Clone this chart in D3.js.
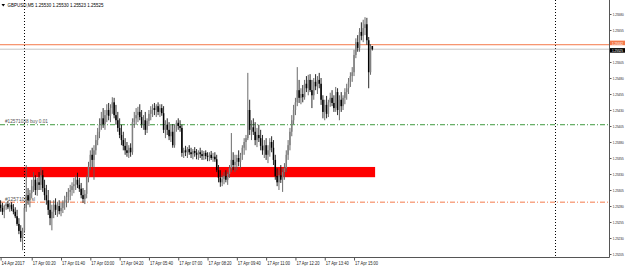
<!DOCTYPE html>
<html>
<head>
<meta charset="utf-8">
<script src="https://cdn.jsdelivr.net/npm/d3@7"></script>
<style>
  body { margin: 0; background: #fff; }
  svg text { font-family: "Liberation Sans", Arial, sans-serif; }
</style>
</head>
<body>
<div id="chart"></div>
<script>
// GBPUSD M5 bars (bar 0 = first visible bar of 14 Apr)
const opens = [1.25282,1.25277,1.25271,1.25280,1.25283,1.25278,1.25282,1.25275,1.25271,1.25264,
1.25252,1.25241,1.25230,1.25242,1.25277,1.25297,1.25289,1.25300,1.25311,1.25321,
1.25305,1.25317,1.25313,1.25328,1.25308,1.25297,1.25289,1.25274,1.25261,1.25271,
1.25282,1.25274,1.25280,1.25272,1.25277,1.25285,1.25289,1.25294,1.25302,1.25305,
1.25311,1.25314,1.25321,1.25313,1.25307,1.25297,1.25291,1.25299,1.25324,1.25342,
1.25360,1.25352,1.25367,1.25383,1.25396,1.25407,1.25417,1.25408,1.25422,1.25430,
1.25421,1.25433,1.25442,1.25422,1.25414,1.25402,1.25391,1.25383,1.25374,1.25367,
1.25363,1.25371,1.25364,1.25411,1.25417,1.25422,1.25427,1.25419,1.25408,1.25414,
1.25399,1.25413,1.25424,1.25430,1.25433,1.25430,1.25436,1.25427,1.25433,1.25425,
1.25399,1.25407,1.25399,1.25389,1.25396,1.25375,1.25402,1.25410,1.25405,1.25402,
1.25363,1.25367,1.25364,1.25369,1.25364,1.25361,1.25366,1.25363,1.25360,1.25364,
1.25361,1.25358,1.25363,1.25358,1.25357,1.25360,1.25355,1.25357,1.25353,1.25336,
1.25324,1.25317,1.25322,1.25327,1.25321,1.25330,1.25339,1.25352,1.25344,1.25349,
1.25355,1.25349,1.25360,1.25371,1.25380,1.25386,1.25430,1.25399,1.25403,1.25396,
1.25383,1.25391,1.25386,1.25374,1.25367,1.25375,1.25360,1.25367,1.25380,1.25371,
1.25352,1.25327,1.25317,1.25328,1.25321,1.25333,1.25339,1.25360,1.25375,1.25396,
1.25414,1.25430,1.25442,1.25461,1.25449,1.25455,1.25450,1.25471,1.25464,1.25477,
1.25461,1.25453,1.25474,1.25467,1.25477,1.25471,1.25446,1.25427,1.25438,1.25424,
1.25442,1.25449,1.25441,1.25433,1.25458,1.25430,1.25446,1.25436,1.25449,1.25458,
1.25464,1.25474,1.25483,1.25489,1.25516,1.25536,1.25527,1.25552,1.25546,1.25558,
1.25564,1.25539,1.25489,1.25530];

const highs = [1.25289,1.25285,1.25282,1.25286,1.25288,1.25285,1.25286,1.25283,1.25278,1.25274,
1.25261,1.25250,1.25246,1.25282,1.25344,1.25308,1.25305,1.25321,1.25333,1.25328,
1.25324,1.25333,1.25341,1.25336,1.25321,1.25313,1.25305,1.25289,1.25282,1.25289,
1.25292,1.25286,1.25289,1.25285,1.25289,1.25296,1.25302,1.25308,1.25313,1.25317,
1.25324,1.25328,1.25332,1.25324,1.25316,1.25308,1.25305,1.25328,1.25349,1.25367,
1.25371,1.25375,1.25391,1.25402,1.25417,1.25427,1.25433,1.25430,1.25439,1.25441,
1.25439,1.25450,1.25449,1.25438,1.25427,1.25417,1.25407,1.25396,1.25386,1.25380,
1.25375,1.25378,1.25417,1.25427,1.25433,1.25435,1.25439,1.25430,1.25422,1.25427,
1.25417,1.25430,1.25436,1.25439,1.25441,1.25439,1.25442,1.25439,1.25439,1.25436,
1.25414,1.25417,1.25411,1.25407,1.25408,1.25407,1.25414,1.25417,1.25414,1.25407,
1.25371,1.25374,1.25372,1.25375,1.25371,1.25369,1.25372,1.25369,1.25367,1.25371,
1.25367,1.25366,1.25367,1.25364,1.25364,1.25366,1.25363,1.25364,1.25360,1.25344,
1.25336,1.25328,1.25333,1.25336,1.25333,1.25344,1.25394,1.25364,1.25360,1.25360,
1.25367,1.25363,1.25375,1.25386,1.25391,1.25488,1.25446,1.25414,1.25417,1.25411,
1.25402,1.25407,1.25399,1.25391,1.25383,1.25386,1.25375,1.25386,1.25389,1.25383,
1.25360,1.25339,1.25336,1.25344,1.25339,1.25347,1.25367,1.25383,1.25402,1.25422,
1.25438,1.25449,1.25497,1.25477,1.25464,1.25469,1.25477,1.25483,1.25485,1.25486,
1.25477,1.25480,1.25486,1.25483,1.25488,1.25480,1.25453,1.25446,1.25452,1.25446,
1.25457,1.25461,1.25453,1.25466,1.25464,1.25453,1.25458,1.25453,1.25464,1.25471,
1.25480,1.25489,1.25497,1.25524,1.25542,1.25547,1.25558,1.25567,1.25571,1.25575,
1.25574,1.25544,1.25533,1.25530];

const lows = [1.25271,1.25266,1.25261,1.25274,1.25275,1.25271,1.25272,1.25267,1.25261,1.25249,
1.25236,1.25224,1.25211,1.25238,1.25271,1.25282,1.25278,1.25292,1.25302,1.25297,
1.25296,1.25305,1.25305,1.25302,1.25289,1.25282,1.25266,1.25250,1.25242,1.25261,
1.25266,1.25263,1.25267,1.25264,1.25269,1.25274,1.25278,1.25285,1.25289,1.25296,
1.25300,1.25305,1.25308,1.25302,1.25292,1.25285,1.25283,1.25292,1.25317,1.25336,
1.25341,1.25321,1.25360,1.25375,1.25386,1.25399,1.25402,1.25399,1.25411,1.25414,
1.25411,1.25424,1.25417,1.25407,1.25396,1.25386,1.25375,1.25367,1.25360,1.25357,
1.25355,1.25357,1.25360,1.25402,1.25407,1.25411,1.25414,1.25402,1.25399,1.25391,
1.25394,1.25405,1.25414,1.25419,1.25422,1.25419,1.25422,1.25419,1.25421,1.25394,
1.25386,1.25391,1.25383,1.25380,1.25371,1.25371,1.25396,1.25399,1.25396,1.25357,
1.25355,1.25358,1.25355,1.25360,1.25355,1.25353,1.25357,1.25353,1.25352,1.25355,
1.25352,1.25352,1.25353,1.25350,1.25350,1.25352,1.25349,1.25349,1.25333,1.25317,
1.25310,1.25311,1.25314,1.25317,1.25313,1.25324,1.25333,1.25336,1.25333,1.25336,
1.25342,1.25339,1.25352,1.25360,1.25367,1.25383,1.25391,1.25383,1.25391,1.25375,
1.25372,1.25380,1.25367,1.25360,1.25355,1.25352,1.25347,1.25357,1.25364,1.25344,
1.25321,1.25311,1.25305,1.25316,1.25302,1.25321,1.25333,1.25352,1.25367,1.25389,
1.25408,1.25422,1.25436,1.25441,1.25439,1.25442,1.25446,1.25458,1.25453,1.25458,
1.25433,1.25446,1.25461,1.25455,1.25464,1.25438,1.25417,1.25414,1.25417,1.25419,
1.25435,1.25436,1.25427,1.25427,1.25422,1.25414,1.25427,1.25430,1.25439,1.25446,
1.25455,1.25466,1.25474,1.25483,1.25511,1.25521,1.25521,1.25539,1.25536,1.25547,
1.25532,1.25464,1.25485,1.25523];

const closes = [1.25277,1.25271,1.25280,1.25283,1.25278,1.25282,1.25275,1.25271,1.25264,1.25252,
1.25241,1.25230,1.25242,1.25277,1.25297,1.25289,1.25300,1.25311,1.25321,1.25305,
1.25317,1.25313,1.25328,1.25308,1.25297,1.25289,1.25274,1.25261,1.25271,1.25282,
1.25274,1.25280,1.25272,1.25277,1.25285,1.25289,1.25294,1.25302,1.25305,1.25311,
1.25314,1.25321,1.25313,1.25307,1.25297,1.25291,1.25299,1.25324,1.25342,1.25360,
1.25352,1.25367,1.25383,1.25396,1.25407,1.25417,1.25408,1.25422,1.25430,1.25421,
1.25433,1.25442,1.25422,1.25414,1.25402,1.25391,1.25383,1.25374,1.25367,1.25363,
1.25371,1.25364,1.25411,1.25417,1.25422,1.25427,1.25419,1.25408,1.25414,1.25399,
1.25413,1.25424,1.25430,1.25433,1.25430,1.25436,1.25427,1.25433,1.25425,1.25399,
1.25407,1.25399,1.25389,1.25396,1.25375,1.25402,1.25410,1.25405,1.25402,1.25363,
1.25367,1.25364,1.25369,1.25364,1.25361,1.25366,1.25363,1.25360,1.25364,1.25361,
1.25358,1.25363,1.25358,1.25357,1.25360,1.25355,1.25357,1.25353,1.25336,1.25324,
1.25317,1.25322,1.25327,1.25321,1.25330,1.25339,1.25352,1.25344,1.25349,1.25355,
1.25349,1.25360,1.25371,1.25380,1.25386,1.25430,1.25399,1.25403,1.25396,1.25383,
1.25391,1.25386,1.25374,1.25367,1.25375,1.25360,1.25367,1.25380,1.25371,1.25352,
1.25327,1.25317,1.25328,1.25321,1.25333,1.25339,1.25360,1.25375,1.25396,1.25414,
1.25430,1.25442,1.25461,1.25449,1.25455,1.25450,1.25471,1.25464,1.25477,1.25461,
1.25453,1.25474,1.25467,1.25477,1.25471,1.25446,1.25427,1.25438,1.25424,1.25442,
1.25449,1.25441,1.25433,1.25458,1.25430,1.25446,1.25436,1.25449,1.25458,1.25464,
1.25474,1.25483,1.25489,1.25516,1.25536,1.25527,1.25552,1.25546,1.25558,1.25564,
1.25539,1.25489,1.25530,1.25525];

// axis labels (1.25530 sits under the price tags, as in the terminal)
const priceTicks = [1.25580,1.25555,1.25505,1.25480,1.25455,1.25430,1.25405,
  1.25380,1.25355,1.25330,1.25305,1.25280,1.25255,1.25230,1.25205];
const timeLabelBars = [0,17,33,49,65,81,97,113,129,145,161,177,193];
const timeLabels = ["14 Apr 2017","17 Apr 00:20","17 Apr 01:40","17 Apr 03:00","17 Apr 04:20",
  "17 Apr 05:40","17 Apr 07:00","17 Apr 08:20","17 Apr 09:40","17 Apr 11:00",
  "17 Apr 12:20","17 Apr 13:40","17 Apr 15:00"];

// objects on the chart
const bidPrice = 1.25525;
const askPrice = 1.25532;
const orderPrice = 1.25407;
const stopPrice = 1.25286;
const zoneTop = 1.25341, zoneBottom = 1.25325;
const zoneBars = [-1, 204.5];
const separatorBars = [13, 303];
const title = "GBPUSD,M5  1.25530 1.25530 1.25523 1.25525";

const W = 625, H = 267;
const plotRight = 609, plotBottom = 257;
const fmt = d3.format(".5f");

const svg = d3.select("#chart").append("svg")
  .attr("width", W).attr("height", H);

const x = d3.scaleLinear().domain([0, 203]).range([0.6, 0.6 + 203 * 1.8313]);
const y = d3.scaleLinear().domain([1.25205, 1.25580]).range([254, 14]);

// red zone rectangle
svg.append("rect")
  .attr("x", Math.max(0, x(zoneBars[0])))
  .attr("y", y(zoneTop))
  .attr("width", x(zoneBars[1]) - Math.max(0, x(zoneBars[0])))
  .attr("height", y(zoneBottom) - y(zoneTop))
  .attr("fill", "#ff0000");

// day separators
svg.selectAll(".sep").data(separatorBars).join("line")
  .attr("x1", d => Math.round(x(d)) + 0.5).attr("x2", d => Math.round(x(d)) + 0.5)
  .attr("y1", 0).attr("y2", plotBottom)
  .attr("stroke", "#000").attr("stroke-width", 1)
  .attr("stroke-dasharray", "1,2");

// bid / ask lines
svg.append("line")
  .attr("x1", 0).attr("x2", plotRight)
  .attr("y1", y(bidPrice)).attr("y2", y(bidPrice))
  .attr("stroke", "#c4c4c4").attr("stroke-width", 1);
svg.append("line")
  .attr("x1", 0).attr("x2", plotRight)
  .attr("y1", y(askPrice)).attr("y2", y(askPrice))
  .attr("stroke", "#f4794a").attr("stroke-width", 1);

// order level lines
const levels = [
  { p: orderPrice, color: "#3f9a3f", text: "#12571038 buy 0.01", len: 43 },
  { p: stopPrice, color: "#f4794a", text: "#12571038 sl", len: 30 }
];
svg.selectAll(".lvl").data(levels).join("line")
  .attr("x1", 0).attr("x2", plotRight)
  .attr("y1", d => y(d.p)).attr("y2", d => y(d.p))
  .attr("stroke", d => d.color).attr("stroke-width", 1)
  .attr("stroke-dasharray", "5,2,1,2");
svg.selectAll(".lvlText").data(levels).join("text")
  .attr("x", 5).attr("y", d => y(d.p) - 1.5)
  .attr("font-size", 4.6).attr("fill", "#555")
  .attr("textLength", d => d.len).attr("lengthAdjust", "spacingAndGlyphs")
  .text(d => d.text);

// bars
const bars = d3.range(opens.length).map(i => ({
  i, o: opens[i], h: highs[i], l: lows[i], c: closes[i]
}));
const g = svg.append("g");
g.selectAll(".wick").data(bars).join("line")
  .attr("x1", d => x(d.i)).attr("x2", d => x(d.i))
  .attr("y1", d => y(d.h)).attr("y2", d => y(d.l))
  .attr("stroke", d => d.c >= d.o ? "#5a5a5a" : "#111")
  .attr("stroke-width", 0.9);
g.selectAll(".body").data(bars).join("rect")
  .attr("x", d => x(d.i) - 0.75)
  .attr("width", 1.5)
  .attr("y", d => y(Math.max(d.o, d.c)))
  .attr("height", d => Math.max(0.8, Math.abs(y(d.o) - y(d.c))))
  .attr("fill", d => d.c >= d.o ? "#808080" : "#000");

// frame
svg.append("line").attr("x1", plotRight + 0.5).attr("x2", plotRight + 0.5)
  .attr("y1", 0).attr("y2", plotBottom + 0.5).attr("stroke", "#555");
svg.append("line").attr("x1", 0).attr("x2", plotRight + 0.5)
  .attr("y1", plotBottom + 0.5).attr("y2", plotBottom + 0.5).attr("stroke", "#555");

// price axis
const yAxis = svg.append("g")
  .attr("transform", `translate(${plotRight + 0.5},0)`)
  .call(d3.axisRight(y).tickValues(priceTicks).tickFormat(fmt).tickSize(2).tickPadding(1.2));
yAxis.select(".domain").remove();
yAxis.selectAll("text").attr("font-size", 4.4).attr("fill", "#222")
  .attr("textLength", 11).attr("lengthAdjust", "spacingAndGlyphs");
yAxis.selectAll("line").attr("stroke", "#555");

// time axis
const xAxis = svg.append("g")
  .attr("transform", `translate(0,${plotBottom + 0.5})`)
  .call(d3.axisBottom(x).tickValues(timeLabelBars).tickFormat((d, i) => timeLabels[i]).tickSize(3).tickPadding(1));
xAxis.select(".domain").remove();
xAxis.selectAll("text").attr("font-size", 4.6).attr("fill", "#222")
  .attr("text-anchor", "start").attr("dx", 0.5)
  .attr("textLength", 23).attr("lengthAdjust", "spacingAndGlyphs");
xAxis.selectAll("line").attr("stroke", "#555");

// current price labels
const tags = [
  { p: askPrice, bg: "#f4794a", off: -1.5 },
  { p: bidPrice, bg: "#000", off: 1.5 }
];
const tag = svg.selectAll(".tag").data(tags).join("g")
  .attr("transform", d => `translate(${plotRight + 1},${y(d.p) + d.off})`);
tag.append("rect").attr("x", 0).attr("y", -2.6).attr("width", 15).attr("height", 4.6)
  .attr("fill", d => d.bg);
tag.append("text").attr("x", 2).attr("y", 1.4).attr("font-size", 4.2).attr("fill", "#fff")
  .attr("textLength", 11).attr("lengthAdjust", "spacingAndGlyphs")
  .text(d => fmt(d.p));

// title
svg.append("path").attr("d", "M1.5,4 L5,4 L3.25,6.5 Z").attr("fill", "#000");
svg.append("text").attr("x", 7.5).attr("y", 6.8)
  .attr("font-size", 4.8).attr("fill", "#000")
  .attr("textLength", 96).attr("lengthAdjust", "spacingAndGlyphs")
  .text(title);
</script>
</body>
</html>
